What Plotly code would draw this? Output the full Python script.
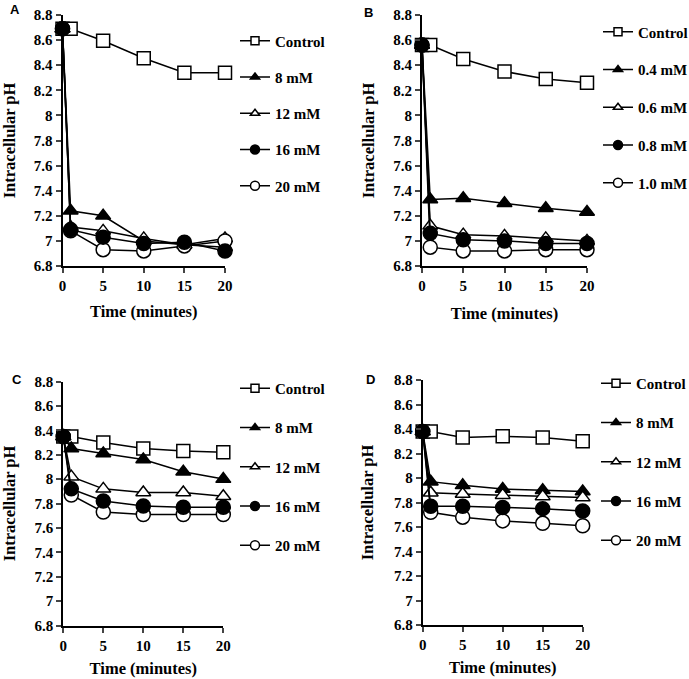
import plotly.graph_objects as go

W, H = 689, 679
time = [0, 1, 5, 10, 15, 20]

# Panel A
a_names = ["Control", "8 mM", "12 mM", "16 mM", "20 mM"]
a_control = [8.69, 8.69, 8.595, 8.455, 8.34, 8.34]
a_8 = [8.69, 7.24, 7.20, 7.00, 6.97, 6.95]
a_12 = [8.69, 7.11, 7.08, 7.02, 6.97, 7.02]
a_16 = [8.69, 7.09, 7.03, 6.98, 6.99, 6.92]
a_20 = [8.69, 7.08, 6.93, 6.92, 6.96, 7.00]
a_control_err = [0.01, 0.01, 0.025, 0.02, 0.02, 0.025]

# Panel B
b_names = ["Control", "0.4 mM", "0.6 mM", "0.8 mM", "1.0 mM"]
b_control = [8.56, 8.56, 8.45, 8.35, 8.29, 8.26]
b_04 = [8.56, 7.33, 7.34, 7.30, 7.26, 7.23]
b_06 = [8.56, 7.12, 7.05, 7.04, 7.02, 7.00]
b_08 = [8.56, 7.06, 7.01, 7.00, 6.98, 6.98]
b_10 = [8.56, 6.95, 6.92, 6.92, 6.93, 6.93]
b_control_err = [0.01, 0.01, 0.02, 0.03, 0.02, 0.02]

# Panel C
c_names = ["Control", "8 mM", "12 mM", "16 mM", "20 mM"]
c_control = [8.35, 8.35, 8.30, 8.25, 8.23, 8.22]
c_8 = [8.35, 8.25, 8.21, 8.16, 8.06, 8.00]
c_12 = [8.35, 8.02, 7.92, 7.89, 7.89, 7.86]
c_16 = [8.35, 7.92, 7.82, 7.78, 7.77, 7.77]
c_20 = [8.35, 7.87, 7.73, 7.71, 7.71, 7.71]
c_control_err = [0.01, 0.01, 0.02, 0.02, 0.02, 0.01]

# Panel D
d_names = ["Control", "8 mM", "12 mM", "16 mM", "20 mM"]
d_control = [8.38, 8.38, 8.33, 8.34, 8.33, 8.30]
d_8 = [8.38, 7.97, 7.94, 7.91, 7.90, 7.89]
d_12 = [8.38, 7.88, 7.87, 7.86, 7.85, 7.84]
d_16 = [8.38, 7.77, 7.77, 7.76, 7.75, 7.73]
d_20 = [8.38, 7.72, 7.68, 7.65, 7.63, 7.61]
d_control_err = [0.01, 0.01, 0.01, 0.01, 0.01, 0.01]

y_tickvals = [6.8, 7.0, 7.2, 7.4, 7.6, 7.8, 8.0, 8.2, 8.4, 8.6, 8.8]
y_ticktext = ["6.8", "7", "7.2", "7.4", "7.6", "7.8", "8", "8.2", "8.4", "8.6", "8.8"]
x_tickvals = [0, 5, 10, 15, 20]
x_ticktext = ["0", "5", "10", "15", "20"]
panel_labels = ["A", "B", "C", "D"]

SERIF = "Liberation Serif"
styles = [
    dict(symbol="square", color="white"),
    dict(symbol="triangle-up", color="black"),
    dict(symbol="triangle-up", color="white"),
    dict(symbol="circle", color="black"),
    dict(symbol="circle", color="white"),
]
sizes = [13, 13, 13, 14, 14]
legend_sizes = [8, 8, 8, 9, 9]
draw_order = [0, 1, 2, 4, 3]   # filled circles end up on top, as in the original

panels = [
    (a_names, [a_control, a_8, a_12, a_16, a_20], a_control_err),
    (b_names, [b_control, b_04, b_06, b_08, b_10], b_control_err),
    (c_names, [c_control, c_8, c_12, c_16, c_20], c_control_err),
    (d_names, [d_control, d_8, d_12, d_16, d_20], d_control_err),
]

# pixel geometry of each plot area: (x0, x1, ytop, ybottom)
geo = [(62.5, 225, 15, 266), (422, 587, 15, 266), (63.3, 223.3, 381.5, 625.5), (422.7, 582.7, 380, 625)]
legend_pos = [(235, 24.5), (598, 15.5), (235, 372), (596, 367)]
legend_gap = [13.75, 15.25, 16.75, 16.75]
xtitle_standoff = [12, 14, 10, 9]
ytitle_standoff = [21, 14, 19, 16]
label_pos = [(8, 10), (362, 12), (10, 379), (364, 379)]

fig = go.Figure()
layout = {}
for p, (names, series, err) in enumerate(panels):
    ax = "" if p == 0 else str(p + 1)
    leg = "legend" if p == 0 else "legend" + str(p + 1)
    for i in draw_order:
        nm, ys = names[i], series[i]
        st = styles[i]
        tr = go.Scatter(
            x=time, y=ys, name=nm, mode="lines+markers",
            xaxis="x" + ax, yaxis="y" + ax, showlegend=False,
            cliponaxis=False,
            line=dict(color="black", width=1.5),
            marker=dict(symbol=st["symbol"], color=st["color"], size=sizes[i],
                        line=dict(color="black", width=1.5)),
        )
        if i == 0:
            tr.error_y = dict(type="data", array=err, visible=True, color="black", thickness=1.2, width=3)
        fig.add_trace(tr)
    # legend entries (smaller symbols as in the original legend)
    for i, nm in enumerate(names):
        st = styles[i]
        fig.add_trace(go.Scatter(
            x=[None], y=[None], name=nm, mode="lines+markers",
            xaxis="x" + ax, yaxis="y" + ax, legend=leg, legendgroup=f"p{p}_{i}",
            line=dict(color="black", width=1.5),
            marker=dict(symbol=st["symbol"], color=st["color"], size=legend_sizes[i],
                        line=dict(color="black", width=1.5)),
        ))
    x0, x1, yt, yb = geo[p]
    layout["xaxis" + ax] = dict(
        domain=[x0 / W, x1 / W], range=[0, 20], anchor="y" + ax,
        tickvals=x_tickvals, ticktext=x_ticktext, ticks="outside", ticklen=5, tickwidth=2,
        showline=True, linecolor="black", linewidth=2, showgrid=False, zeroline=False,
        automargin=False,
        tickfont=dict(family=SERIF, size=15, color="black", weight="bold"),
        title=dict(text="<b>Time (minutes)</b>", font=dict(family=SERIF, size=16.5, color="black"),
                   standoff=xtitle_standoff[p]),
    )
    layout["yaxis" + ax] = dict(
        domain=[1 - yb / H, 1 - yt / H], range=[6.8, 8.8], anchor="x" + ax,
        tickvals=y_tickvals, ticktext=y_ticktext, ticks="outside", ticklen=5, tickwidth=2,
        showline=True, linecolor="black", linewidth=2, showgrid=False, zeroline=False,
        automargin=False,
        tickfont=dict(family=SERIF, size=15, color="black", weight="bold"),
        title=dict(text="<b>Intracellular pH</b>", font=dict(family=SERIF, size=16.5, color="black"),
                   standoff=ytitle_standoff[p]),
    )
    lx, ly = legend_pos[p]
    layout[leg] = dict(
        x=lx / W, y=1 - ly / H, xanchor="left", yanchor="top",
        font=dict(family=SERIF, size=15, color="black", weight="bold"),
        bgcolor="rgba(0,0,0,0)", borderwidth=0, tracegroupgap=legend_gap[p],
        itemsizing="trace",
    )
    fig.add_annotation(
        x=label_pos[p][0] / W, y=1 - label_pos[p][1] / H, xref="paper", yref="paper",
        text="<b>" + panel_labels[p] + "</b>", showarrow=False, xanchor="left", yanchor="middle",
        font=dict(family="Liberation Sans", size=13, color="black"),
    )

fig.update_layout(
    width=W, height=H, margin=dict(l=0, r=0, t=0, b=0, autoexpand=False),
    paper_bgcolor="white", plot_bgcolor="white", showlegend=True,
    **layout,
)
# let the fixed-size figure fill the browser window exactly (no default 8px page margin)
fig.write_html(
    "out.html",
    config={"displayModeBar": False},
    post_script="document.body.style.margin='0px';document.body.style.overflow='hidden';",
)
